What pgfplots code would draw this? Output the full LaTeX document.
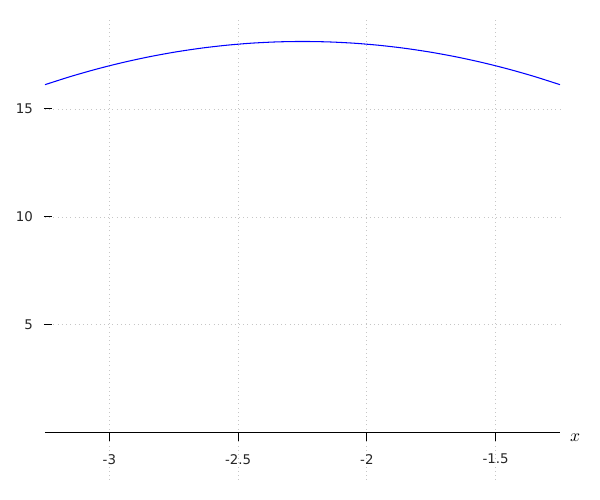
\documentclass[border=0pt]{standalone}
\usepackage{fontspec}
\setmainfont{DejaVu Sans}
\usepackage{pgfplots}
\pgfplotsset{compat=1.18}

\begin{document}
\begin{tikzpicture}
\begin{axis}[
    scale only axis, width=10.3cm, height=9.2cm,
    xmin=-3.25, xmax=-1.25, ymin=-2.18, ymax=19.12,
    axis x line=middle, axis y line=left,
    x axis line style={-, black, line width=0.6pt},
    y axis line style={draw=none},
    xtick={-3,-2.5,-2,-1.5}, ytick={5,10,15},
    tick align=outside, major tick length=0.17cm,
    y tick style={xshift=0.15cm, black, line width=0.6pt},
    x tick style={black, line width=0.6pt},
    grid=major, grid style={gray!45, dotted, line width=0.5pt},
    tick label style={font=\fontsize{7.6}{9}\selectfont, text=black!85},
    yticklabel style={xshift=0.05cm},
    xticklabel style={yshift=-0.13cm},
    /pgf/number format/assume math mode=true,
    xlabel={$x$},
    xlabel style={at={(axis cs:-1.25,0)}, anchor=west, xshift=0.08cm, yshift=-0.1cm, font=\fontsize{10}{11}\selectfont},
]
\addplot[blue, line width=0.6pt, smooth] coordinates {
(-3.25,16.125) (-3.15,16.505) (-3.05,16.845) (-2.95,17.145) (-2.85,17.405)
(-2.75,17.625) (-2.65,17.805) (-2.55,17.945) (-2.45,18.045) (-2.35,18.105)
(-2.25,18.125) (-2.15,18.105) (-2.05,18.045) (-1.95,17.945) (-1.85,17.805)
(-1.75,17.625) (-1.65,17.405) (-1.55,17.145) (-1.45,16.845) (-1.35,16.505)
(-1.25,16.125)};
\end{axis}
\path (-0.9,-0.4) rectangle (11.1,9.6);
\end{tikzpicture}
\end{document}
